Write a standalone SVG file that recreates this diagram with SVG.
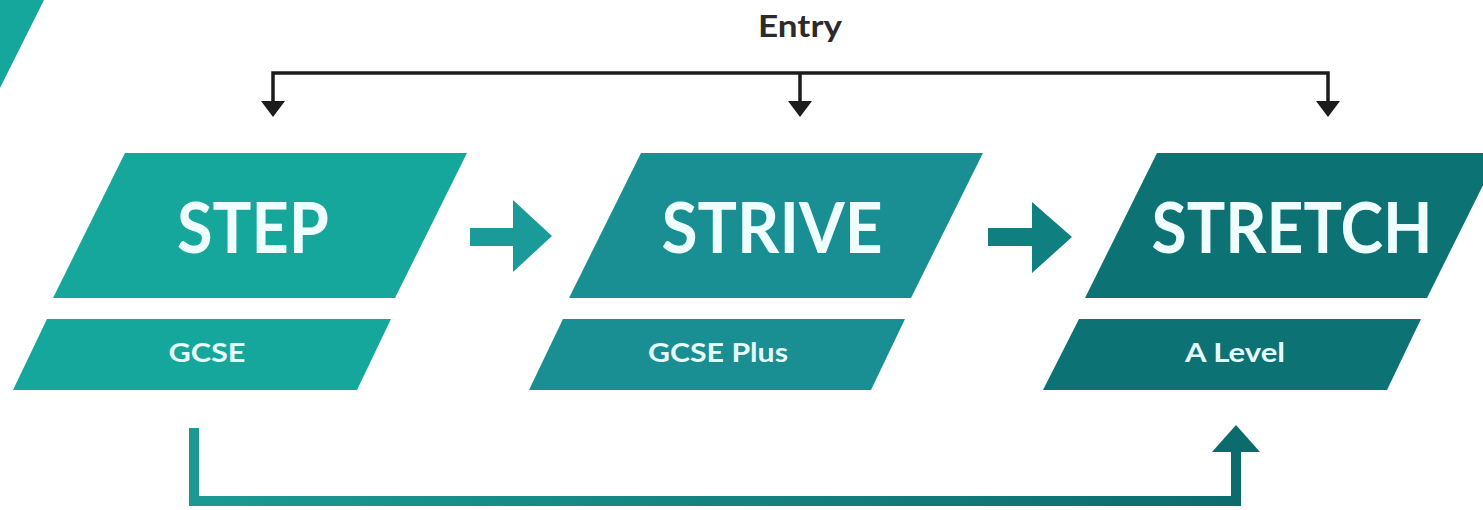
<svg xmlns="http://www.w3.org/2000/svg" width="1483" height="510" viewBox="0 0 1483 510">
  <style>
    .main { font-family: Lato, "Liberation Sans", sans-serif; font-weight: 700; font-size: 70px; fill: #effefe; text-anchor: middle; }
    .sub { font-family: Lato, "Liberation Sans", sans-serif; font-weight: 700; font-size: 27px; fill: #e6fbfa; text-anchor: middle; }
    .entry { font-family: Lato, "Liberation Sans", sans-serif; font-weight: 700; font-size: 30px; fill: #2b2b2b; text-anchor: middle; }
    .c1 { fill: #15a79c; }
    .c2 { fill: #198e93; }
    .c3 { fill: #0c7274; }
    .dark { fill: none; stroke: #1c1c1c; stroke-width: 3.5; }
  </style>
  <defs>
    <marker id="blk" viewBox="0 0 10 10" refX="5" refY="10" markerWidth="6.5" markerHeight="4.5" markerUnits="strokeWidth" orient="auto-start-reverse" preserveAspectRatio="none">
      <path d="M0,0 L10,0 L5,10 Z" fill="#1c1c1c"/>
    </marker>
    <linearGradient id="bg" gradientUnits="userSpaceOnUse" x1="190" y1="0" x2="1245" y2="0">
      <stop offset="0" stop-color="#1c9a92"/>
      <stop offset="1" stop-color="#0c6c6d"/>
    </linearGradient>
  </defs>
  <rect width="1483" height="510" fill="#ffffff"/>

  <polygon class="c1" points="0,0 44,0 0,88"/>

  <text class="entry" x="800" y="37" textLength="84" lengthAdjust="spacingAndGlyphs">Entry</text>

  <g id="connectors">
    <path class="dark" d="M273,102 V73 H1328 V102"/>
    <line x1="800" y1="73" x2="800" y2="102" class="dark"/>
    <polygon points="261,101 285,101 273,117" fill="#1c1c1c"/>
    <polygon points="788,101 812,101 800,117" fill="#1c1c1c"/>
    <polygon points="1316,101 1340,101 1328,117" fill="#1c1c1c"/>

    <polygon fill="#1a9a98" points="470,228 513,228 513,200 552,236 513,272 513,246 470,246"/>
    <polygon fill="#0f7f80" points="988,228 1032,228 1032,202 1072,237 1032,273 1032,246 988,246"/>

    <path d="M194,428 V501 H1236 V448" fill="none" stroke="url(#bg)" stroke-width="10"/>
    <polygon fill="#0c6c6d" points="1212,452 1260,452 1236,425"/>
  </g>

  <g id="step">
    <polygon class="c1" points="125,153 467,153 395,298 53,298"/>
    <text class="main" x="253" y="253" textLength="152" lengthAdjust="spacingAndGlyphs">STEP</text>
  </g>
  <g id="gcse">
    <polygon class="c1" points="47,319 391,319 357,390 13,390"/>
    <text class="sub" x="207" y="362" textLength="77" lengthAdjust="spacingAndGlyphs">GCSE</text>
  </g>

  <g id="strive">
    <polygon class="c2" points="641,153 983,153 911,298 569,298"/>
    <text class="main" x="772" y="253" textLength="221" lengthAdjust="spacingAndGlyphs">STRIVE</text>
  </g>
  <g id="gcse-plus">
    <polygon class="c2" points="563,319 905,319 871,390 529,390"/>
    <text class="sub" x="718" y="362" textLength="140" lengthAdjust="spacingAndGlyphs">GCSE Plus</text>
  </g>

  <g id="stretch">
    <polygon class="c3" points="1157,153 1499,153 1427,298 1085,298"/>
    <text class="main" x="1292" y="253" textLength="281" lengthAdjust="spacingAndGlyphs">STRETCH</text>
  </g>
  <g id="a-level">
    <polygon class="c3" points="1079,319 1421,319 1387,390 1043,390"/>
    <text class="sub" x="1235" y="362" textLength="100" lengthAdjust="spacingAndGlyphs">A Level</text>
  </g>
</svg>
